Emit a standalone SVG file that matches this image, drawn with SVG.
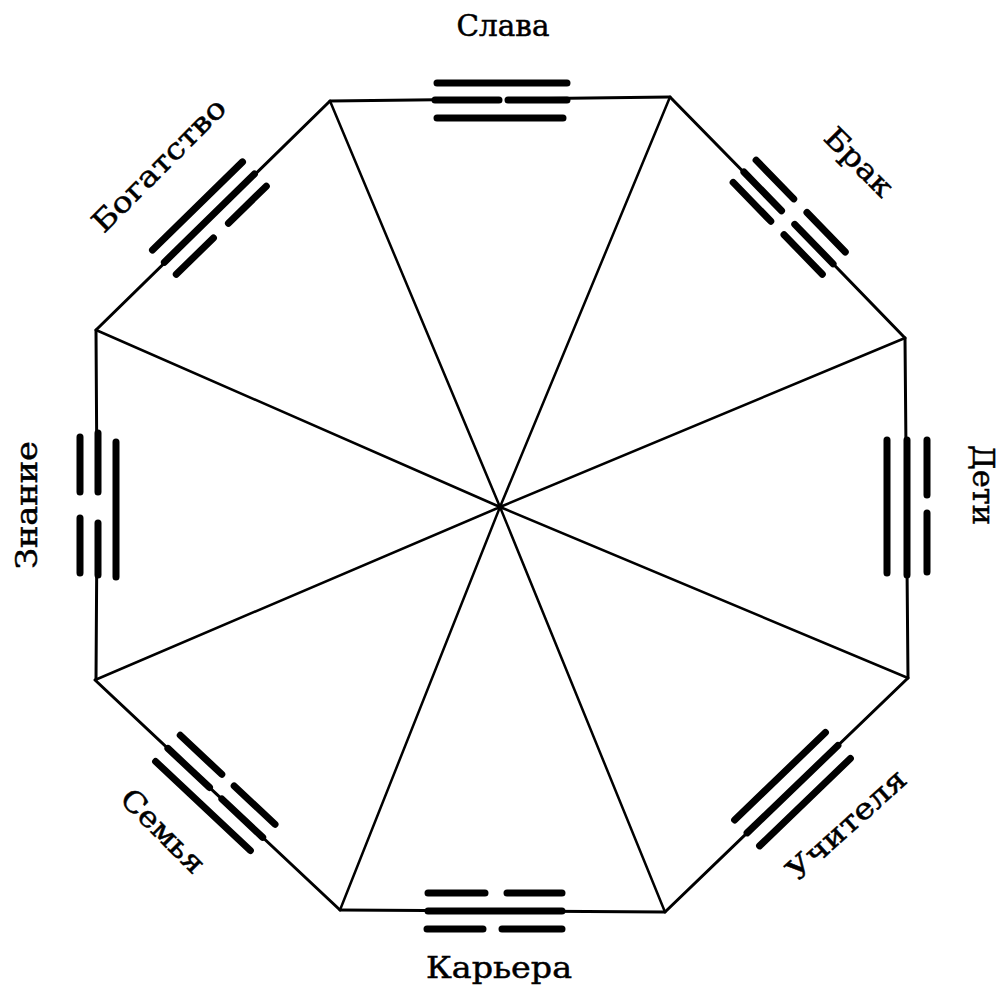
<svg xmlns="http://www.w3.org/2000/svg" width="1003" height="989" viewBox="0 0 1003 989">
<style>
.edge{stroke:#000;stroke-width:3;fill:none;stroke-linecap:round}
.spoke{stroke:#000;stroke-width:2.5;fill:none}
.bar{stroke:#000;stroke-width:7;stroke-linecap:round;fill:none}
.lbl{font-family:"DejaVu Serif","Liberation Serif",serif;font-size:29px;fill:#000;stroke:#000;stroke-width:0.5;text-anchor:middle}
</style>
<rect width="1003" height="989" fill="#fff"/>
<g id="connectors">
<path class="spoke" d="M330,101L500,507M670,97L500,507M905,338L500,507M908,678L500,507M665,912L500,507M340,910L500,507M95,680L500,507M96,330L500,507"/>
<path class="edge" d="M330,101L499,99M508,99L670,97"/>
<path class="edge" d="M670,97L781.5,210.7M794.8,224.3L905,338"/>
<path class="edge" d="M905,338L908,678"/>
<path class="edge" d="M908,678L665,912"/>
<path class="edge" d="M665,912L340,910"/>
<path class="edge" d="M340,910L95,680"/>
<path class="edge" d="M96,330L97,492M97,523L96,680"/>
<path class="edge" d="M96,330L330,101"/>
</g>
<g id="slava">
<path class="bar" d="M437,83H567M435,100H499M508,100H567M437,118H563"/>
<text class="lbl" x="503" y="36" textLength="93" lengthAdjust="spacingAndGlyphs">Слава</text>
</g>
<g id="brak">
<g transform="translate(788.5,217.9) rotate(45.84)">
<path class="bar" d="M-64,-17H-10M9,-17H64M-64,0H-10M9,0H64M-64,15H-10M9,15H64"/>
</g>
<text class="lbl" transform="translate(852,169) rotate(45)" textLength="84" lengthAdjust="spacingAndGlyphs">Брак</text>
</g>
<g id="deti">
<path class="bar" d="M927,440V495M927,513V572M907,440V575M887,440V573"/>
<text class="lbl" transform="translate(973,485) rotate(90)" textLength="80" lengthAdjust="spacingAndGlyphs">Дети</text>
</g>
<g id="uchitelya">
<g transform="translate(792.5,789.2) rotate(-43.9)">
<path class="bar" d="M-63,-18H63M-63,0H63M-63,18H63"/>
</g>
<text class="lbl" transform="translate(853,832) rotate(-42)" textLength="150" lengthAdjust="spacingAndGlyphs">Учителя</text>
</g>
<g id="karera">
<path class="bar" d="M428,893H485M507,893H562M428,911H562M427,929H483M502,929H562"/>
<text class="lbl" x="499" y="978" textLength="146" lengthAdjust="spacingAndGlyphs">Карьера</text>
</g>
<g id="semya">
<g transform="translate(215.3,792.9) rotate(43.2)">
<path class="bar" d="M-65,-18H-8M9,-18H65M-65,0H-8M9,0H65M-65,18H65"/>
</g>
<text class="lbl" transform="translate(156,838) rotate(45)" textLength="106" lengthAdjust="spacingAndGlyphs">Семья</text>
</g>
<g id="znanie">
<path class="bar" d="M80,437V492M80,518V573M98,433V492M98,523V575M116,442V577"/>
<text class="lbl" transform="translate(37,505) rotate(-90)" textLength="128" lengthAdjust="spacingAndGlyphs">Знание</text>
</g>
<g id="bogatstvo">
<g transform="translate(209.4,218.1) rotate(-44.4)">
<path class="bar" d="M-63,-17H63M-63,0H63M-63,17H-11M10,17H63"/>
</g>
<text class="lbl" transform="translate(166,172) rotate(-45)" textLength="176" lengthAdjust="spacingAndGlyphs">Богатство</text>
</g>
</svg>
